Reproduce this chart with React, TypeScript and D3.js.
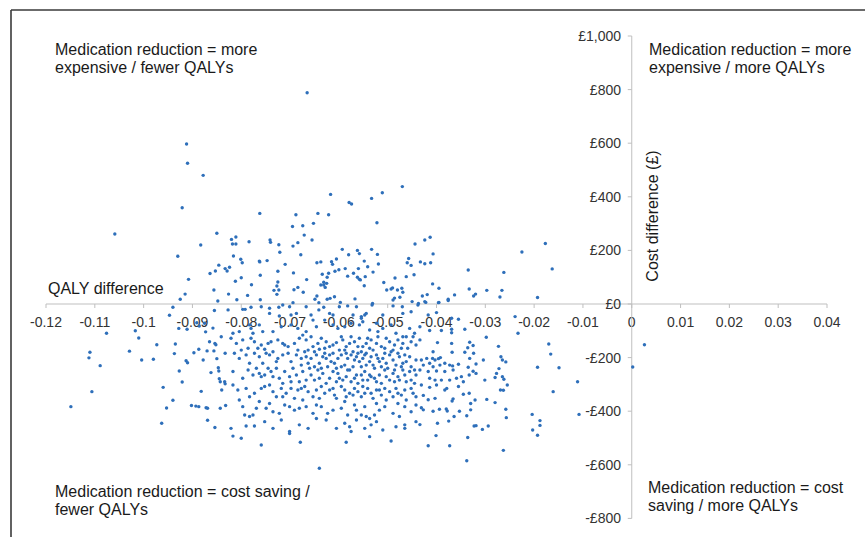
import React from "react";
import * as d3 from "d3";

// QALY difference (x) and cost difference in £ (y) for each simulation
const pointsUpperLeft: [number, number][] = [
  [-0.0912,597],[-0.0910,525],[-0.0878,480],[-0.0921,359],[-0.1059,261],[-0.0850,264],[-0.0883,220],[-0.0930,178],[-0.0846,145],[-0.0864,114],[-0.0853,123],[-0.0833,132],[-0.0829,123],[-0.0908,92],[-0.0856,52],[-0.0915,37],[-0.0925,18],[-0.0848,11],[-0.0826,37],
];

const pointsUpperMid: [number, number][] = [
  [-0.0665,788],[-0.0470,438],[-0.0511,415],[-0.0533,394],[-0.0617,409],[-0.0579,379],[-0.0574,373],[-0.0762,338],[-0.0688,333],[-0.0643,338],[-0.0621,333],[-0.0522,303],[-0.0695,289],[-0.0674,292],[-0.0652,301],[-0.0671,257],[-0.0655,239],[-0.0684,229],[-0.0694,216],[-0.0678,184],[-0.0721,193],[-0.0723,221],[-0.0741,239],[-0.0740,230],[-0.0784,232],[-0.0811,250],[-0.0820,241],[-0.0818,224],[-0.0811,224],[-0.0816,179],[-0.0801,167],[-0.0798,154],[-0.0763,160],[-0.0762,157],[-0.0747,162],[-0.0710,148],[-0.0725,122],[-0.0761,107],[-0.0800,98],[-0.0812,85],[-0.0824,137],[-0.0779,72],[-0.0725,82],[-0.0727,67],[-0.0733,51],[-0.0723,52],[-0.0727,36],[-0.0787,32],[-0.0809,16],[-0.0761,16],[-0.0693,116],[-0.0666,91],[-0.0692,53],[-0.0684,62],[-0.0673,44],[-0.0694,5],[-0.0649,18],[-0.0645,30],[-0.0641,5],[-0.0645,154],[-0.0637,157],[-0.0634,111],[-0.0637,71],[-0.0631,71],[-0.0625,77],[-0.0628,62],[-0.0631,81],[-0.0624,100],[-0.0621,115],[-0.0624,18],[-0.0618,21],[-0.0609,27],[-0.0615,158],[-0.0613,148],[-0.0605,168],[-0.0608,122],[-0.0600,128],[-0.0593,204],[-0.0580,184],[-0.0587,132],[-0.0582,104],[-0.0597,6],[-0.0567,19],[-0.0562,200],[-0.0558,188],[-0.0570,115],[-0.0560,132],[-0.0548,160],[-0.0541,139],[-0.0562,100],[-0.0558,92],[-0.0556,90],[-0.0546,102],[-0.0548,68],[-0.0533,204],[-0.0521,185],[-0.0519,149],[-0.0530,119],[-0.0508,80],[-0.0502,52],[-0.0493,56],[-0.0490,60],[-0.0485,97],[-0.0480,52],[-0.0475,25],[-0.0471,59],[-0.0469,44],[-0.0486,22],[-0.0489,15],[-0.0462,102],[-0.0457,170],[-0.0460,154],[-0.0452,144],[-0.0444,224],[-0.0446,109],[-0.0450,9],[-0.0437,2],[-0.0531,2],
];

const pointsUpperRight: [number, number][] = [
  [-0.0424,239],[-0.0413,249],[-0.0407,187],[-0.0433,157],[-0.0424,150],[-0.0412,154],[-0.0408,75],[-0.0395,59],[-0.0429,30],[-0.0419,35],[-0.0422,6],[-0.0395,6],[-0.0376,18],[-0.0363,34],[-0.0335,127],[-0.0333,56],[-0.0324,30],[-0.0320,37],[-0.0297,51],[-0.0270,26],[-0.0266,51],[-0.0262,118],[-0.0225,194],[-0.0193,24],[-0.0177,226],[-0.0163,131],
];

const pointsLowerLeft: [number, number][] = [
  [-0.1076,-109],[-0.1110,-180],[-0.1112,-201],[-0.1089,-230],[-0.1106,-327],[-0.1149,-383],[-0.1017,-100],[-0.1010,-127],[-0.1029,-176],[-0.1004,-209],[-0.0980,-206],[-0.0973,-152],[-0.0960,-311],[-0.0947,-42],[-0.0940,-12],[-0.0928,-91],[-0.0911,-94],[-0.0935,-149],[-0.0937,-185],[-0.0913,-212],[-0.0910,-219],[-0.0927,-250],[-0.0921,-291],[-0.0940,-359],[-0.0953,-388],[-0.0963,-445],[-0.0897,-182],[-0.0887,-169],[-0.0878,-209],[-0.0891,-70],[-0.0886,-82],[-0.0873,-104],[-0.0875,-72],[-0.0858,-90],[-0.0865,-141],[-0.0854,-147],[-0.0852,-152],[-0.0870,-175],[-0.0856,-175],[-0.0841,-122],[-0.0855,-24],[-0.0833,-184],[-0.0850,-204],[-0.0847,-238],[-0.0846,-250],[-0.0862,-256],[-0.0845,-279],[-0.0843,-290],[-0.0834,-290],[-0.0833,-298],[-0.0840,-321],[-0.0882,-326],[-0.0902,-379],[-0.0893,-381],[-0.0887,-383],[-0.0872,-387],[-0.0869,-389],[-0.0843,-389],[-0.0832,-379],[-0.0869,-434],[-0.0854,-461],[-0.0827,-22],
];

const pointsLowerCore: [number, number][] = [
  [-0.0797,-20],[-0.0792,-20],[-0.0780,-12],[-0.0759,-10],[-0.0742,-16],[-0.0723,-12],[-0.0715,-4],[-0.0701,-10],[-0.0667,-10],[-0.0641,-22],[-0.0631,-12],[-0.0599,-10],[-0.0582,-7],[-0.0564,-10],[-0.0532,-4],[-0.0489,-7],[-0.0470,-10],[-0.0452,-29],[-0.0742,-35],[-0.0722,-45],[-0.0698,-41],[-0.0687,-35],[-0.0657,-41],[-0.0619,-35],[-0.0612,-41],[-0.0571,-41],[-0.0554,-47],[-0.0547,-41],[-0.0544,-35],[-0.0510,-41],[-0.0469,-35],[-0.0438,-4],
  [-0.0817,-109],[-0.0804,-103],[-0.0783,-78],[-0.0780,-91],[-0.0776,-109],[-0.0763,-78],[-0.0756,-103],[-0.0735,-103],[-0.0718,-85],[-0.0698,-78],[-0.0684,-91],[-0.0667,-103],[-0.0653,-60],[-0.0646,-85],[-0.0629,-60],[-0.0612,-78],[-0.0602,-91],[-0.0588,-85],[-0.0575,-72],[-0.0554,-53],[-0.0551,-66],[-0.0558,-78],[-0.0537,-97],[-0.0523,-72],[-0.0520,-103],[-0.0510,-91],[-0.0493,-78],[-0.0483,-109],[-0.0469,-122],[-0.0455,-91],[-0.0445,-109],
  [-0.0821,-128],[-0.0810,-147],[-0.0797,-134],[-0.0786,-165],[-0.0773,-141],[-0.0759,-153],[-0.0752,-169],[-0.0745,-147],[-0.0739,-141],[-0.0725,-134],[-0.0715,-147],[-0.0711,-153],[-0.0704,-159],[-0.0691,-147],[-0.0681,-128],[-0.0667,-134],[-0.0663,-172],[-0.0653,-159],[-0.0643,-147],[-0.0640,-169],[-0.0629,-165],[-0.0619,-159],[-0.0612,-153],[-0.0605,-144],[-0.0592,-134],[-0.0585,-159],[-0.0578,-147],[-0.0568,-141],[-0.0558,-128],[-0.0551,-159],[-0.0544,-147],[-0.0537,-165],[-0.0530,-172],[-0.0523,-147],[-0.0513,-159],[-0.0503,-128],[-0.0496,-141],[-0.0486,-153],[-0.0479,-134],[-0.0469,-147],[-0.0459,-165],[-0.0448,-122],[-0.0442,-153],
  [-0.0814,-184],[-0.0804,-203],[-0.0790,-190],[-0.0773,-184],[-0.0763,-197],[-0.0756,-221],[-0.0749,-184],[-0.0735,-178],[-0.0725,-203],[-0.0715,-190],[-0.0704,-184],[-0.0698,-215],[-0.0687,-190],[-0.0677,-203],[-0.0667,-197],[-0.0657,-203],[-0.0646,-190],[-0.0640,-221],[-0.0633,-197],[-0.0626,-203],[-0.0619,-190],[-0.0616,-215],[-0.0609,-221],[-0.0602,-203],[-0.0595,-190],[-0.0588,-228],[-0.0582,-203],[-0.0575,-190],[-0.0568,-209],[-0.0564,-197],[-0.0558,-215],[-0.0551,-203],[-0.0544,-184],[-0.0537,-215],[-0.0530,-228],[-0.0523,-190],[-0.0517,-215],[-0.0510,-203],[-0.0503,-221],[-0.0496,-190],[-0.0489,-209],[-0.0483,-228],[-0.0476,-197],[-0.0469,-221],[-0.0462,-215],[-0.0452,-234],[-0.0442,-209],
  [-0.0817,-252],[-0.0797,-277],[-0.0786,-246],[-0.0776,-265],[-0.0763,-259],[-0.0759,-271],[-0.0752,-265],[-0.0739,-252],[-0.0728,-240],[-0.0722,-277],[-0.0715,-296],[-0.0701,-271],[-0.0687,-265],[-0.0674,-252],[-0.0667,-284],[-0.0660,-240],[-0.0650,-284],[-0.0643,-246],[-0.0633,-259],[-0.0619,-277],[-0.0612,-252],[-0.0602,-259],[-0.0592,-284],[-0.0585,-271],[-0.0578,-246],[-0.0568,-277],[-0.0561,-296],[-0.0554,-265],[-0.0547,-252],[-0.0541,-284],[-0.0534,-271],[-0.0523,-290],[-0.0517,-265],[-0.0506,-246],[-0.0496,-284],[-0.0489,-259],[-0.0479,-271],[-0.0469,-246],[-0.0462,-290],[-0.0452,-284],[-0.0442,-265],
  [-0.0817,-302],[-0.0807,-321],[-0.0790,-315],[-0.0773,-333],[-0.0759,-315],[-0.0752,-308],[-0.0735,-327],[-0.0718,-315],[-0.0715,-346],[-0.0698,-315],[-0.0691,-352],[-0.0684,-321],[-0.0677,-315],[-0.0663,-327],[-0.0653,-346],[-0.0640,-352],[-0.0629,-333],[-0.0619,-321],[-0.0609,-340],[-0.0605,-352],[-0.0595,-308],[-0.0588,-321],[-0.0578,-333],[-0.0568,-315],[-0.0561,-327],[-0.0554,-346],[-0.0547,-333],[-0.0541,-315],[-0.0530,-352],[-0.0523,-321],[-0.0513,-340],[-0.0503,-358],[-0.0496,-327],[-0.0483,-315],[-0.0472,-340],[-0.0462,-358],[-0.0452,-315],[-0.0442,-346],
  [-0.0797,-383],[-0.0793,-414],[-0.0783,-420],[-0.0776,-414],[-0.0769,-389],[-0.0749,-389],[-0.0735,-402],[-0.0722,-408],[-0.0711,-377],[-0.0691,-396],[-0.0681,-389],[-0.0667,-383],[-0.0653,-408],[-0.0646,-377],[-0.0623,-408],[-0.0612,-396],[-0.0595,-389],[-0.0582,-414],[-0.0564,-396],[-0.0554,-414],[-0.0547,-383],[-0.0544,-420],[-0.0537,-427],[-0.0527,-414],[-0.0517,-396],[-0.0506,-383],[-0.0489,-408],[-0.0476,-420],[-0.0465,-383],[-0.0452,-402],[-0.0442,-377],
  [-0.0821,-464],[-0.0790,-455],[-0.0773,-455],[-0.0752,-439],[-0.0735,-464],[-0.0718,-433],[-0.0701,-476],[-0.0681,-451],[-0.0663,-464],[-0.0646,-427],[-0.0626,-433],[-0.0605,-464],[-0.0588,-445],[-0.0578,-458],[-0.0564,-433],[-0.0547,-464],[-0.0534,-451],[-0.0523,-439],[-0.0510,-470],[-0.0483,-458],[-0.0465,-451],[-0.0442,-439],
  [-0.0817,-493],[-0.0800,-501],[-0.0759,-526],[-0.0701,-483],[-0.0679,-516],[-0.0640,-613],[-0.0585,-516],[-0.0575,-476],[-0.0537,-495],[-0.0493,-511],[-0.0465,-464],
];

const pointsLowerCoreDense: [number, number][] = [
  [-0.0674,-116],[-0.0657,-122],[-0.0636,-128],[-0.0626,-141],[-0.0595,-122],[-0.0588,-172],[-0.0575,-122],[-0.0561,-159],[-0.0554,-178],[-0.0541,-128],[-0.0534,-134],[-0.0520,-122],[-0.0506,-165],[-0.0489,-172],[-0.0472,-165],[-0.0462,-122],[-0.0452,-141],
  [-0.0684,-172],[-0.0670,-178],[-0.0650,-178],[-0.0629,-184],[-0.0612,-184],[-0.0599,-172],[-0.0585,-184],[-0.0571,-178],[-0.0561,-184],[-0.0547,-190],[-0.0534,-197],[-0.0520,-203],[-0.0506,-184],[-0.0493,-178],[-0.0479,-184],[-0.0465,-190],[-0.0455,-197],
  [-0.0677,-228],[-0.0663,-221],[-0.0650,-234],[-0.0636,-240],[-0.0623,-234],[-0.0605,-240],[-0.0595,-234],[-0.0582,-246],[-0.0571,-234],[-0.0554,-234],[-0.0544,-228],[-0.0527,-240],[-0.0513,-234],[-0.0500,-240],[-0.0486,-246],[-0.0472,-234],[-0.0455,-252],[-0.0445,-246],
  [-0.0681,-290],[-0.0657,-265],[-0.0640,-277],[-0.0626,-296],[-0.0605,-290],[-0.0599,-277],[-0.0575,-290],[-0.0564,-265],[-0.0551,-284],[-0.0537,-265],[-0.0527,-277],[-0.0513,-296],[-0.0503,-271],[-0.0486,-290],[-0.0476,-284],[-0.0465,-265],[-0.0445,-296],
  [-0.0670,-308],[-0.0646,-321],[-0.0636,-308],[-0.0612,-315],[-0.0585,-346],[-0.0571,-340],[-0.0551,-308],[-0.0534,-333],[-0.0517,-321],[-0.0506,-315],[-0.0489,-346],[-0.0479,-333],[-0.0465,-321],[-0.0448,-333],
  [-0.0745,-240],[-0.0735,-271],[-0.0783,-221],[-0.0769,-240],[-0.0800,-172],[-0.0780,-128],[-0.0766,-165],[-0.0742,-190],[-0.0728,-215],[-0.0711,-252],[-0.0694,-240],[-0.0698,-290],[-0.0742,-302],[-0.0728,-346],[-0.0708,-333],[-0.0783,-346],[-0.0804,-358],[-0.0763,-364],[-0.0742,-371],[-0.0701,-383],[-0.0674,-358],[-0.0636,-383],[-0.0588,-364],[-0.0568,-377],[-0.0523,-371],[-0.0479,-371],
];

const pointsLowerRight: [number, number][] = [
  [-0.0424,9],[-0.0396,5],[-0.0376,13],[-0.0417,-41],[-0.0400,-32],[-0.0369,-53],[-0.0355,-57],[-0.0434,-85],[-0.0414,-99],[-0.0390,-99],[-0.0369,-94],[-0.0369,-107],[-0.0342,-94],[-0.0434,-134],[-0.0398,-144],[-0.0369,-147],[-0.0332,-143],[-0.0325,-155],[-0.0336,-163],[-0.0407,-178],[-0.0431,-209],[-0.0420,-203],[-0.0408,-203],[-0.0403,-209],[-0.0396,-204],[-0.0392,-200],[-0.0368,-180],[-0.0342,-180],[-0.0324,-184],[-0.0427,-228],[-0.0414,-221],[-0.0407,-234],[-0.0393,-228],[-0.0383,-221],[-0.0373,-228],[-0.0367,-231],[-0.0355,-225],[-0.0332,-203],[-0.0319,-224],[-0.0434,-246],[-0.0417,-252],[-0.0400,-250],[-0.0383,-252],[-0.0366,-246],[-0.0349,-271],[-0.0335,-236],[-0.0325,-251],[-0.0333,-265],[-0.0319,-259],[-0.0414,-277],[-0.0403,-284],[-0.0390,-284],[-0.0373,-284],[-0.0359,-277],[-0.0431,-302],[-0.0414,-311],[-0.0400,-302],[-0.0383,-321],[-0.0379,-315],[-0.0355,-308],[-0.0333,-333],[-0.0345,-337],[-0.0427,-341],[-0.0403,-352],[-0.0417,-357],[-0.0366,-354],[-0.0368,-362],[-0.0431,-387],[-0.0427,-395],[-0.0407,-400],[-0.0394,-393],[-0.0380,-392],[-0.0378,-399],[-0.0353,-400],[-0.0330,-395],[-0.0330,-371],[-0.0321,-358],[-0.0338,-417],[-0.0364,-420],[-0.0375,-437],[-0.0398,-445],[-0.0434,-450],[-0.0401,-491],[-0.0417,-529],[-0.0373,-529],[-0.0336,-498],[-0.0323,-455],[-0.0319,-454],[-0.0306,-468],[-0.0294,-455],[-0.0297,-356],[-0.0280,-368],[-0.0258,-393],[-0.0257,-424],[-0.0263,-546],[-0.0338,-585],[-0.0298,-124],[-0.0273,-158],[-0.0268,-197],[-0.0265,-209],[-0.0258,-216],[-0.0272,-241],[-0.0277,-259],[-0.0280,-274],[-0.0265,-271],[-0.0262,-281],[-0.0255,-302],[-0.0269,-321],[-0.0263,-322],[-0.0301,-284],[-0.0239,-47],[-0.0233,-109],[-0.0170,-149],[-0.0166,-187],[-0.0193,-236],[-0.0149,-238],[-0.0111,-290],[-0.0161,-327],[-0.0108,-412],[-0.0204,-412],[-0.0188,-435],[-0.0188,-453],[-0.0203,-470],[-0.0193,-490],[-0.0345,-290],[-0.0304,-209],
  [0.0026,-152],[0.0002,-235],
];

const xTicks = [-0.12, -0.11, -0.1, -0.09, -0.08, -0.07, -0.06, -0.05, -0.04, -0.03, -0.02, -0.01, 0, 0.01, 0.02, 0.03, 0.04];
const yTicks = [1000, 800, 600, 400, 200, 0, -200, -400, -600, -800];

const quadrantNotes = [
  { lines: ["Medication reduction = more", "expensive / fewer QALYs"], x: 55, y: 55 },
  { lines: ["Medication reduction = more", "expensive / more QALYs"], x: 649, y: 55 },
  { lines: ["Medication reduction = cost saving /", "fewer QALYs"], x: 55, y: 497 },
  { lines: ["Medication reduction = cost", "saving / more QALYs"], x: 648, y: 493 },
];

const FONT = "'Liberation Sans', Arial, Helvetica, sans-serif";

export default function App() {
  const W = 865;
  const H = 537;
  const x = d3.scaleLinear().domain([-0.12, 0.04]).range([46, 827]);
  const y = d3.scaleLinear().domain([-800, 1000]).range([518.4, 36]);
  const allPoints = [
    ...pointsUpperLeft,
    ...pointsUpperMid,
    ...pointsUpperRight,
    ...pointsLowerLeft,
    ...pointsLowerCore,
    ...pointsLowerCoreDense,
    ...pointsLowerRight,
  ];
  const x0 = x(0);
  const y0 = y(0);
  const fmtX = (v: number) => (Math.abs(v) < 1e-9 ? "0" : String(+v.toFixed(2)));
  const fmtY = (v: number) => {
    const s = "£" + d3.format(",")(Math.abs(v));
    return v < 0 ? "-" + s : s;
  };
  const axisColor = "#bfbfbf";
  const labelColor = "#333333";

  return (
    <div style={{ position: "absolute", left: 0, top: 0, width: W, height: H, background: "#fff" }}>
      <svg width={W} height={H} style={{ display: "block", fontFamily: FONT }}>
        <rect x={0} y={0} width={W} height={H} fill="#fff" />
        {/* frame */}
        <line x1={11} y1={10} x2={W} y2={10} stroke="#3a3a3a" strokeWidth={1.6} />
        <line x1={11} y1={10} x2={11} y2={H} stroke="#3a3a3a" strokeWidth={1.6} />

        {/* x axis */}
        <line x1={x(-0.12)} y1={y0} x2={x(0.04)} y2={y0} stroke={axisColor} strokeWidth={1} />
        {xTicks.map((t) => (
          <g key={"xt" + t}>
            <line x1={x(t)} x2={x(t)} y1={y0} y2={y0 + 4} stroke={axisColor} strokeWidth={1} />
            <text x={x(t)} y={327} textAnchor="middle" fontSize={14} fill={labelColor}>
              {fmtX(t)}
            </text>
          </g>
        ))}

        {/* y axis */}
        <line x1={x0} y1={y(1000)} x2={x0} y2={y(-800)} stroke={axisColor} strokeWidth={1} />
        {yTicks.map((t) => (
          <g key={"yt" + t}>
            <line x1={x0 - 4} x2={x0} y1={y(t)} y2={y(t)} stroke={axisColor} strokeWidth={1} />
            <text x={621} y={y(t) + 5} textAnchor="end" fontSize={14} fill={labelColor}>
              {fmtY(t)}
            </text>
          </g>
        ))}

        {/* points */}
        <g fill="#2e6fba">
          {allPoints.map((p, i) => (
            <circle key={i} cx={x(p[0])} cy={y(p[1])} r={1.7} />
          ))}
        </g>

        {/* axis titles */}
        <text x={48} y={294} fontSize={16} fill="#1a1a1a">QALY difference</text>
        <text
          transform={`translate(658,216) rotate(-90)`}
          textAnchor="middle"
          fontSize={16}
          fill="#1a1a1a"
        >
          Cost difference (£)
        </text>

        {/* quadrant notes */}
        {quadrantNotes.map((n, i) => (
          <text key={"n" + i} x={n.x} y={n.y} fontSize={16} fill="#1a1a1a">
            {n.lines.map((l, j) => (
              <tspan key={j} x={n.x} dy={j === 0 ? 0 : 18}>
                {l}
              </tspan>
            ))}
          </text>
        ))}
      </svg>
    </div>
  );
}
